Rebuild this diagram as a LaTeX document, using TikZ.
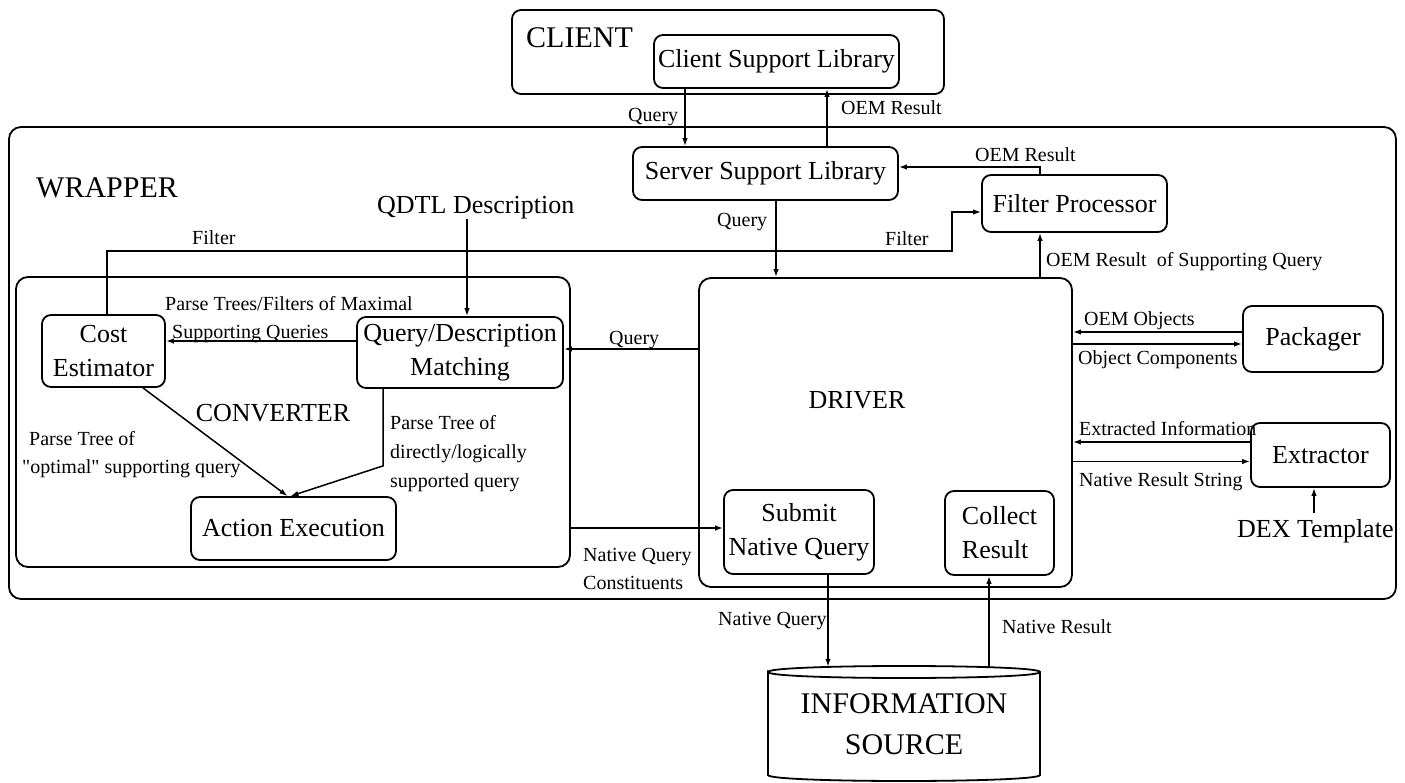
\documentclass[tikz,border=0pt]{standalone}
\usepackage{fontspec}
\setmainfont{Liberation Serif}[Ligatures=TeXOff]
\usetikzlibrary{arrows.meta,calc}
\begin{document}
\begin{tikzpicture}[x=1pt,y=-1pt,
  box/.style={draw, line width=1.8pt, rounded corners=9pt, inner sep=0pt, align=center, font=\fontsize{26}{34}\selectfont},
  big/.style={inner sep=0pt, font=\fontsize{30}{41}\selectfont, align=center},
  mid/.style={inner sep=0pt, font=\fontsize{26}{34}\selectfont},
  lbl/.style={inner sep=0pt, font=\fontsize{20}{28}\selectfont, text height=13.5pt, text depth=0pt, anchor=west},
  mlbl/.style={inner sep=0pt, font=\fontsize{20}{28}\selectfont, align=left, anchor=north west},
  conn/.style={line width=1.5pt, -{Latex[length=8pt,width=5.5pt]}}
]
\useasboundingbox (0,0) rectangle (1405,783);

% outer containers
\node[box, minimum width=432pt, minimum height=84pt] (client) at (728,52) {};
\node[big, anchor=west, text height=20pt, text depth=0pt] (clientlbl) at (526,38) {CLIENT};
\node[box, rounded corners=12pt, minimum width=1387pt, minimum height=472pt] (wrapper) at (702.5,363) {};
\node[big, anchor=west, text height=20pt, text depth=0pt] (wraplbl) at (36,188) {WRAPPER};

% boxes
\node[box, minimum width=245pt, minimum height=53pt] (csl) at (776.5,61.5) {Client Support Library};
\node[box, minimum width=265pt, minimum height=53pt] (ssl) at (765.5,173.5) {Server Support Library};
\node[box, minimum width=185pt, minimum height=57pt] (fp) at (1074.5,203.5) {Filter Processor};
\node[box, rounded corners=12pt, minimum width=554pt, minimum height=290pt] (conv) at (293,422) {};
\node[mid] (convlbl) at (273,413) {CONVERTER};
\node[box, minimum width=123pt, minimum height=72pt] (cost) at (103.5,351) {Cost\\Estimator};
\node[box, minimum width=206pt, minimum height=71pt] (qdm) at (460,352.5) {Query/Description\\Matching};
\node[box, minimum width=205pt, minimum height=63pt] (ae) at (293.5,528.5) {Action Execution};
\node[box, rounded corners=12pt, minimum width=373pt, minimum height=309pt] (drv) at (885.5,432.5) {};
\node[mid] (drvlbl) at (857,400) {DRIVER};
\node[box, minimum width=150pt, minimum height=84pt] (sub) at (799,532) {Submit\\Native Query};
\node[box, minimum width=109pt, minimum height=84pt, align=left] (col) at (999.5,533) {Collect\\Result};
\node[box, minimum width=140pt, minimum height=66pt] (pk) at (1313,339) {Packager};
\node[box, minimum width=139pt, minimum height=64pt] (ex) at (1320.5,455) {Extractor};
\node[mid, anchor=west, text height=17.5pt, text depth=0pt] (qdtl) at (377,205) {QDTL Description};
\node[mid, anchor=west, text height=17.5pt, text depth=0pt] (dex) at (1237,529) {DEX Template};

% information source (cylinder)
\node[big, minimum width=272pt, minimum height=114pt] (info) at (904,724) {INFORMATION\\SOURCE};
\draw[line width=1.8pt] (768,672) .. controls (768,664) and (1040,664) .. (1040,672)
  .. controls (1040,680) and (768,680) .. (768,672) -- (768,775)
  .. controls (768,783) and (1040,783) .. (1040,775) -- (1040,672);

% connectors
\draw[conn] ($(csl.south)+(-91.5,0)$) -- ($(csl.south |- ssl.north)+(-91.5,0)$);
\draw[conn] ($(ssl.north)+(61.5,0)$) -- ($(ssl.north |- csl.south)+(61.5,0)$);
\draw[conn] ($(fp.north)+(-34.5,0)$) |- ($(ssl.east)+(0,-6.5)$);
\draw[conn] ($(ssl.south)+(10.5,0)$) -- ($(ssl.south |- drv.north)+(10.5,0)$);
\coordinate (fbend) at (952,251);
\draw[conn] ($(cost.north)+(3.5,0)$) |- (fbend) |- ($(fp.west)+(0,8.5)$);
\draw[conn] ($(qdm.north |- qdtl.south)+(7,5)$) -- ($(qdm.north)+(7,0)$);
\draw[conn] ($(qdm.west)+(0,-11.5)$) -- ($(cost.east |- qdm.west)+(0,-11.5)$);
\draw[conn] ($(cost.south)+(39.5,0)$) -- ($(ae.north)+(-6,0)$);
\draw[conn] ($(qdm.south)+(-77,0)$) -- ++(0,77) -- ($(ae.north)+(-3,0)$);
\draw[conn] ($(drv.west |- qdm.east)+(0,-3.5)$) -- ($(qdm.east)+(0,-3.5)$);
\draw[conn] ($(conv.east |- sub.west)+(0,-4)$) -- ($(sub.west)+(0,-4)$);
\draw[conn] ($(fp.south |- drv.north)+(-34.5,0)$) -- ($(fp.south)+(-34.5,0)$);
\draw[conn] ($(pk.west)+(0,-7)$) -- ($(drv.east |- pk.west)+(0,-7)$);
\draw[conn] ($(drv.east |- pk.west)+(0,5)$) -- ($(pk.west)+(0,5)$);
\draw[conn] ($(ex.west)+(0,-13)$) -- ($(drv.east |- ex.west)+(0,-13)$);
\draw[conn] ($(drv.east |- ex.west)+(0,6.5)$) -- ($(ex.west)+(0,6.5)$);
\draw[conn] ($(ex.south |- dex.north)+(-6.5,-7)$) -- ($(ex.south)+(-6.5,0)$);
\draw[conn] ($(sub.south)+(29,0)$) -- ($(sub.south |- info.north)+(29,0)$);
\draw[conn] ($(col.south |- info.north)+(-10.5,0)$) -- ($(col.south)+(-10.5,0)$);

% connector labels
\node[lbl] (lq1) at (628,115) {Query};
\node[lbl] (loem1) at (841,108) {OEM Result};
\node[lbl] (loem2) at (975,155) {OEM Result};
\node[lbl] (lq2) at (717,220) {Query};
\node[lbl] (lf1) at (192,238) {Filter};
\node[lbl] (lf2) at (885,239) {Filter};
\node[lbl] (loems) at (1046,260) {OEM Result~ of Supporting Query};
\node[mlbl] (lptf) at (165,296) {Parse Trees/Filters of Maximal\\\hspace*{7pt}Supporting Queries};
\node[mlbl] (lptl) at (22,431) {\hspace*{7pt}Parse Tree of\\"optimal" supporting query};
\node[mlbl, font=\fontsize{20}{29}\selectfont] (lptr) at (390,415) {Parse Tree of\\directly/logically\\supported query};
\node[lbl] (lq3) at (609,338) {Query};
\node[mlbl] (lnqc) at (583,548) {Native Query\\Constituents};
\node[lbl] (loo) at (1084,319) {OEM Objects};
\node[lbl] (locs) at (1078,358) {Object Components};
\node[lbl] (lei) at (1079,429) {Extracted Information};
\node[lbl] (lnrs) at (1079,480) {Native Result String};
\node[lbl] (lnq) at (718,619) {Native Query};
\node[lbl] (lnr) at (1002,627) {Native Result};
\end{tikzpicture}
\end{document}
